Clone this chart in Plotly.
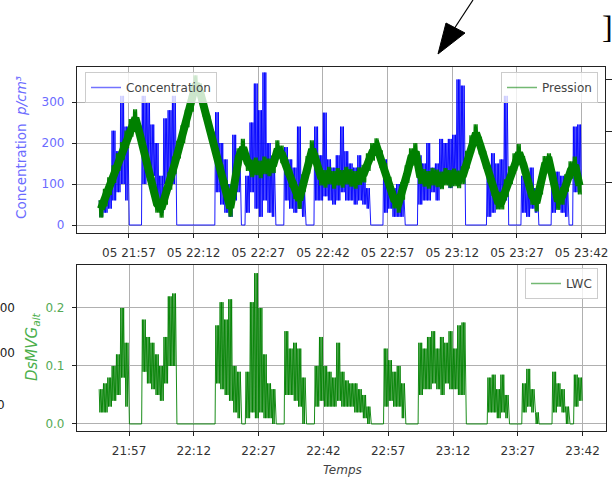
import datetime as dt
import plotly.graph_objects as go

# ---------------- data ----------------
DAY = dt.datetime(2018, 7, 5)
START = DAY + dt.timedelta(hours=21, minutes=50)   # first sample minute

# Concentration (p/cm3): per-minute low / high envelope of the noisy signal
conc_lo = [20, 30, 40, 60, 80, 100, 60, 0, 0, 0,
           100, 150, 120, 60, 30, 100, 120, 100, 0, 0,
           0, 0, 0, 0, 0, 0, 0, 80, 50, 30,
           20, 60, 80, 0, 30, 80, 40, 20, 60, 30,
           20, 0, 0, 60, 40, 30, 40, 20, 0, 0,
           60, 60, 70, 60, 50, 60, 80, 60, 60, 50,
           60, 50, 40, 0, 0, 0, 30, 40, 20, 20,
           20, 0, 0, 0, 50, 60, 60, 80, 60, 90,
           100, 90, 100, 110, 120, 0, 0, 0, 0, 0,
           20, 30, 40, 50, 60, 0, 0, 0, 30, 20,
           40, 30, 0, 0, 0, 30, 40, 30, 20, 0,
           80, 100]
conc_hi = [60, 80, 100, 230, 180, 315, 240, 0, 0, 0,
           315, 300, 245, 200, 120, 260, 280, 315, 0, 0,
           0, 0, 0, 0, 0, 0, 0, 275, 200, 160,
           100, 220, 180, 0, 120, 250, 345, 280, 372, 200,
           150, 0, 0, 190, 160, 140, 240, 80, 0, 0,
           240, 170, 274, 160, 140, 170, 240, 180, 150, 140,
           170, 120, 90, 0, 0, 0, 160, 110, 90, 100,
           80, 0, 0, 0, 170, 150, 200, 140, 150, 210,
           200, 210, 220, 355, 340, 0, 0, 0, 0, 0,
           130, 175, 150, 160, 315, 0, 0, 0, 120, 100,
           140, 90, 0, 0, 0, 110, 130, 120, 100, 0,
           240, 245]

# Pression (hPa): per-minute centre of the band, and band half-thickness
pres_mid = [550, 572, 594, 617, 640, 662, 684, 706, 725, 694,
            660, 627, 594, 560, 550, 575, 604, 634, 664, 694,
            724, 754, 790, 775, 744, 713, 682, 650, 619, 588,
            552, 600, 650, 668, 640, 628, 632, 626, 634, 630,
            636, 665, 655, 632, 609, 586, 567, 600, 635, 665,
            640, 612, 608, 614, 606, 612, 608, 614, 610, 606,
            613, 618, 640, 660, 669, 646, 621, 595, 568, 560,
            585, 617, 650, 660, 615, 610, 606, 612, 609, 605,
            612, 608, 611, 607, 615, 645, 675, 696, 672, 645,
            618, 592, 566, 566, 590, 615, 640, 658, 635, 605,
            575, 562, 595, 635, 640, 605, 565, 575, 600, 625,
            634, 595]
pres_band = 17

# LWC: per-minute low / high envelope
lwc_lo = [0.02, 0.02, 0.03, 0.04, 0.05, 0.08, 0.03, 0, 0, 0,
          0.09, 0.07, 0.06, 0.05, 0.04, 0.07, 0.10, 0.10, 0, 0,
          0, 0, 0, 0, 0, 0, 0, 0.07, 0.06, 0.05,
          0.04, 0.02, 0.01, 0, 0.01, 0.02, 0.01, 0.02, 0.01, 0.01,
          0.0, 0, 0, 0.05, 0.05, 0.04, 0.03, 0.0, 0, 0,
          0.03, 0.04, 0.03, 0.03, 0.03, 0.04, 0.03, 0.03, 0.03, 0.02,
          0.02, 0.01, 0.0, 0, 0, 0, 0.03, 0.04, 0.03, 0.03,
          0.01, 0, 0, 0, 0.05, 0.06, 0.06, 0.07, 0.06, 0.05,
          0.07, 0.06, 0.06, 0.05, 0.05, 0, 0, 0, 0, 0,
          0.02, 0.02, 0.01, 0.02, 0.01, 0, 0, 0, 0.02, 0.03,
          0.02, 0.0, 0, 0, 0, 0.02, 0.03, 0.02, 0.0, 0,
          0.03, 0.04]
lwc_hi = [0.06, 0.07, 0.08, 0.10, 0.12, 0.20, 0.14, 0, 0, 0,
          0.18, 0.15, 0.14, 0.12, 0.10, 0.15, 0.22, 0.225, 0, 0,
          0, 0, 0, 0, 0, 0, 0, 0.17, 0.21, 0.18,
          0.215, 0.10, 0.09, 0, 0.09, 0.21, 0.26, 0.20, 0.12, 0.07,
          0.06, 0, 0, 0.16, 0.13, 0.14, 0.13, 0.08, 0, 0,
          0.10, 0.15, 0.10, 0.09, 0.08, 0.14, 0.09, 0.075, 0.07, 0.07,
          0.06, 0.05, 0.03, 0, 0, 0, 0.13, 0.11, 0.09, 0.10,
          0.07, 0, 0, 0, 0.14, 0.13, 0.15, 0.16, 0.13, 0.15,
          0.14, 0.16, 0.13, 0.17, 0.175, 0, 0, 0, 0, 0,
          0.08, 0.085, 0.06, 0.085, 0.05, 0, 0, 0, 0.07, 0.095,
          0.06, 0.02, 0, 0, 0, 0.09, 0.07, 0.06, 0.03, 0,
          0.085, 0.08]

tick_hm = ["21:57", "22:12", "22:27", "22:42", "22:57", "23:12", "23:27", "23:42"]
conc_ticks = [0, 100, 200, 300]
pres_ticks = [600, 700, 800]
lwc_ticks = [0.0, 0.1, 0.2]
lwc_ticktext = ["0.0", "0.1", "0.2"]

# ---------------- helpers ----------------
W, H = 613, 479
def px(x): return x / W
def py(y): return 1 - y / H

def zigzag(lo, hi, reps=3):
    """alternate the read low/high envelope values inside each minute"""
    xs, ys = [], []
    step = 60.0 / (2 * reps)
    for i, (a, b) in enumerate(zip(lo, hi)):
        for k in range(2 * reps):
            xs.append(START + dt.timedelta(minutes=i, seconds=step / 2 + step * k))
            ys.append(b if k % 2 == 0 else a)
    return xs, ys

cx, cy = zigzag(conc_lo, conc_hi)
prx, pry = zigzag([m - pres_band for m in pres_mid], [m + pres_band for m in pres_mid])
pmx = [START + dt.timedelta(minutes=i, seconds=30) for i in range(len(pres_mid))]
lx, ly = zigzag(lwc_lo, lwc_hi)

tickvals = [DAY + dt.timedelta(hours=int(h[:2]), minutes=int(h[3:])) for h in tick_hm]
xrange_ = [DAY + dt.timedelta(hours=21, minutes=44, seconds=57),
           DAY + dt.timedelta(hours=23, minutes=47, seconds=25)]

FONT = "DejaVu Sans"
GRID = "#b0b0b0"
SPINE = "#222222"
GREEN = "#008000"
BLUE = "#0000ff"

fig = go.Figure()
fig.add_trace(go.Scatter(x=cx, y=cy, mode="lines", name="Concentration", showlegend=False,
                         line=dict(color=BLUE, width=0.9), xaxis="x", yaxis="y"))
# pressure: smooth thick core of the noisy band + the noisy band itself
fig.add_trace(go.Scatter(x=pmx, y=pres_mid, mode="lines", name="Pression", showlegend=False,
                         line=dict(color=GREEN, width=8), xaxis="x", yaxis="y2"))
fig.add_trace(go.Scatter(x=prx, y=pry, mode="lines", name="Pression", showlegend=False,
                         line=dict(color=GREEN, width=1.2), xaxis="x", yaxis="y2"))
fig.add_trace(go.Scatter(x=lx, y=ly, mode="lines", name="LWC", showlegend=False,
                         line=dict(color=GREEN, width=0.9), xaxis="x2", yaxis="y3"))

# legend entries (matplotlib-style pale handles)
for name, col, leg, xa, ya in [("Concentration", "rgba(0,0,255,0.55)", "legend", "x", "y"),
                               ("Pression", "rgba(0,128,0,0.55)", "legend2", "x", "y2"),
                               ("LWC", "rgba(0,128,0,0.55)", "legend3", "x2", "y3")]:
    fig.add_trace(go.Scatter(x=[None], y=[None], mode="lines", name=name,
                             line=dict(color=col, width=1.5), xaxis=xa, yaxis=ya, legend=leg))

axis_common = dict(showgrid=True, gridcolor=GRID, gridwidth=0.8, zeroline=False,
                   showline=True, linecolor=SPINE, linewidth=1.2, mirror=True,
                   ticks="outside", ticklen=4, tickcolor=SPINE, automargin=False)

legend_common = dict(bgcolor="rgba(255,255,255,0.8)", bordercolor="#cccccc", borderwidth=1,
                     font=dict(family=FONT, size=12, color="#444444"),
                     yanchor="top", itemwidth=30, tracegroupgap=0)

fig.update_layout(
    width=W, height=H, template="none",
    margin=dict(l=0, r=0, t=0, b=0),
    paper_bgcolor="white", plot_bgcolor="white",
    font=dict(family=FONT, size=12, color="#333333"),
    showlegend=True,
    xaxis=dict(domain=[px(77), px(605)], anchor="y", type="date", range=xrange_,
               tickvals=tickvals, tickformat="%d %H:%M", ticklabelstandoff=4,
               tickfont=dict(size=12, color="#333333"), **axis_common),
    yaxis=dict(domain=[py(233), py(67)], anchor="x", range=[-19.5, 385.4],
               tickvals=conc_ticks, ticklabelstandoff=5,
               tickfont=dict(size=12, color="#6b6bff"), **axis_common),
    yaxis2=dict(overlaying="y", side="right", anchor="x", range=[503.8, 823.1],
                tickvals=pres_ticks, showgrid=False, zeroline=False, showline=False,
                ticks="outside", ticklen=6, tickcolor=SPINE, automargin=False,
                showticklabels=False),
    xaxis2=dict(domain=[px(77), px(606)], anchor="y3", type="date", range=xrange_,
                tickvals=tickvals, tickformat="%H:%M", ticklabelstandoff=4,
                tickfont=dict(size=12, color="#333333"), **axis_common),
    yaxis3=dict(domain=[py(431), py(265)], anchor="x2", range=[-0.0121, 0.2741],
                tickvals=lwc_ticks, ticktext=lwc_ticktext, ticklabelstandoff=5,
                tickfont=dict(size=12, color="#55aa55"), **axis_common),
    legend=dict(x=px(85), y=py(72), xanchor="left", **legend_common),
    legend2=dict(x=px(598), y=py(72), xanchor="right", **legend_common),
    legend3=dict(x=px(598), y=py(268), xanchor="right", **legend_common),
)

ann = [
    dict(x=px(21), y=py(148), text="Concentration  <i>p/cm³</i>", textangle=-90,
         font=dict(size=13.5, color="#6b6bff")),
    dict(x=px(32), y=py(347), text="<i>DsMVG<sub>alt</sub></i>", textangle=-90,
         font=dict(size=15, color="#4caf4c")),
    dict(x=px(342), y=py(470), text="<i>Temps</i>", font=dict(size=12, color="#444444")),
    dict(x=px(17), y=py(308), text="200", xanchor="right", font=dict(size=12, color="#222222")),
    dict(x=px(17), y=py(353), text="100", xanchor="right", font=dict(size=12, color="#222222")),
    dict(x=px(7), y=py(405), text="0", xanchor="right", font=dict(size=12, color="#222222")),
    dict(x=px(607), y=py(27), text="]", font=dict(size=32, color="black", family="Liberation Serif")),
]
for a in ann:
    a.setdefault("xanchor", "center")
    fig.add_annotation(xref="paper", yref="paper", showarrow=False, yanchor="middle", **a)

# arrow from the surrounding document (decoration)
fig.add_shape(type="line", xref="paper", yref="paper",
              x0=px(473), y0=py(0), x1=px(454), y1=py(29), line=dict(color="black", width=1.2))
fig.add_shape(type="path", xref="paper", yref="paper",
              path=f"M {px(438)} {py(54)} L {px(446)} {py(23)} L {px(465)} {py(33)} Z",
              fillcolor="black", line=dict(color="black", width=1))

fig.write_html("out.html", config={"displayModeBar": False},
               post_script="document.body.style.margin='0';")
